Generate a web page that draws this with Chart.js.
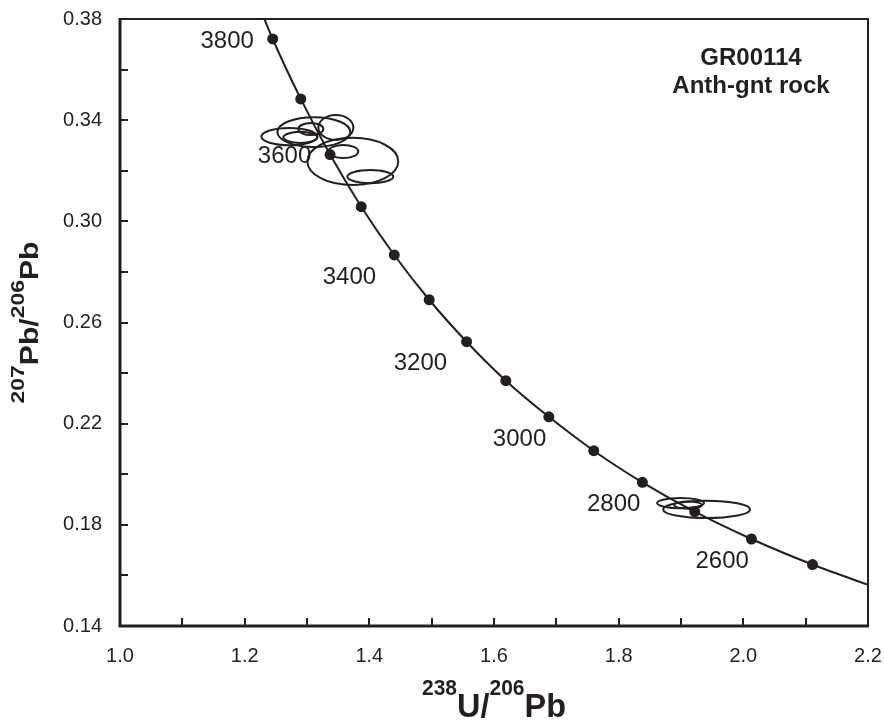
<!DOCTYPE html>
<html>
<head>
<meta charset="utf-8">
<script src="https://cdn.jsdelivr.net/npm/chart.js@4.4.1/dist/chart.umd.min.js"></script>
<style>
  body { margin: 0; background: #fff; }
  canvas { display: block; }
</style>
</head>
<body>
<canvas id="chartCanvas" width="884" height="724"></canvas>
<script>
// concordia (ages in Ma), ends run past the frame
const concAges = [3900, 3800, 3700, 3600, 3500, 3400, 3300, 3200, 3100, 3000, 2900, 2800, 2700, 2600, 2500, 2400];
const concX = [1.203, 1.245, 1.290, 1.337, 1.387, 1.440, 1.496, 1.556, 1.619, 1.688, 1.760, 1.838, 1.922, 2.013, 2.111, 2.217];
const concY = [0.3976, 0.3721, 0.3484, 0.3264, 0.3058, 0.2867, 0.2690, 0.2524, 0.2370, 0.2227, 0.2093, 0.1968, 0.1852, 0.1744, 0.1643, 0.1548];
const markerAges = [3800, 3700, 3600, 3500, 3400, 3300, 3200, 3100, 3000, 2900, 2800, 2700, 2600, 2500];

// age labels and where they sit
const ageLabels = ["3800", "3600", "3400", "3200", "3000", "2800", "2600"];
const ageLabelX = [1.172, 1.264, 1.368, 1.482, 1.641, 1.792, 1.966];
const ageLabelY = [0.3710, 0.3256, 0.2780, 0.2440, 0.2139, 0.1882, 0.1657];

// error ellipses: centre and semi-axes in data units
const ellX  = [1.2717, 1.3110, 1.2894, 1.3062, 1.3463, 1.3735, 1.3583, 1.4016, 1.8993, 1.9411, 1.9114];
const ellY  = [0.3335, 0.3353, 0.3332, 0.3365, 0.3371, 0.3237, 0.3276, 0.3177, 0.1886, 0.1861, 0.1878];
const ellRx = [0.0449, 0.0585, 0.0273, 0.0200, 0.0281, 0.0729, 0.0240, 0.0369, 0.0377, 0.0697, 0.0224];
const ellRy = [0.0034, 0.0059, 0.0022, 0.0024, 0.0049, 0.0093, 0.0026, 0.0026, 0.0020, 0.0034, 0.0014];

const noteLines = ["GR00114", "Anth-gnt rock"];

const INK = "#231f20";
const FONT = "'Liberation Sans', Arial, sans-serif";

const curve = concX.map((x, i) => ({ x: x, y: concY[i] })).sort((a, b) => a.x - b.x);
const dots = markerAges.map(a => {
	const i = concAges.indexOf(a);
	return { x: concX[i], y: concY[i] };
});

function drawSupText(ctx, parts, mainSize, supSize, raise, length) {
	const mainFont = "bold " + mainSize + "px " + FONT;
	const supFont = "bold " + supSize + "px " + FONT;
	let total = 0;
	const widths = parts.map(p => {
		ctx.font = p.sup ? supFont : mainFont;
		const w = ctx.measureText(p.t).width;
		total += w;
		return w;
	});
	const k = length / total;
	ctx.save();
	ctx.scale(k, 1);
	let x = -total / 2;
	parts.forEach((p, i) => {
		ctx.font = p.sup ? supFont : mainFont;
		ctx.fillText(p.t, x, p.sup ? -raise : 0);
		x += widths[i];
	});
	ctx.restore();
}

const framePlugin = {
	id: "frame",
	afterDatasetsDraw(chart) {
		const ctx = chart.ctx;
		const area = chart.chartArea;
		const xs = chart.scales.x;
		const ys = chart.scales.y;

		// error ellipses
		ctx.save();
		ctx.beginPath();
		ctx.rect(area.left, area.top, area.right - area.left, area.bottom - area.top);
		ctx.clip();
		ctx.strokeStyle = INK;
		ctx.lineWidth = 2;
		ellX.forEach((cx, i) => {
			const px = xs.getPixelForValue(cx);
			const py = ys.getPixelForValue(ellY[i]);
			const rx = Math.abs(xs.getPixelForValue(cx + ellRx[i]) - px);
			const ry = Math.abs(ys.getPixelForValue(ellY[i] + ellRy[i]) - py);
			ctx.beginPath();
			ctx.ellipse(px, py, rx, ry, 0, 0, Math.PI * 2);
			ctx.stroke();
		});
		ctx.restore();

		// frame
		ctx.save();
		ctx.strokeStyle = INK;
		ctx.lineWidth = 2;
		ctx.beginPath();
		ctx.moveTo(area.left, area.top);
		ctx.lineTo(area.right, area.top);
		ctx.lineTo(area.right, area.bottom);
		ctx.stroke();
		ctx.lineWidth = 3;
		ctx.beginPath();
		ctx.moveTo(area.left, area.top - 1);
		ctx.lineTo(area.left, area.bottom);
		ctx.lineTo(area.right + 1, area.bottom);
		ctx.stroke();

		// inward ticks
		ctx.lineWidth = 2;
		ctx.beginPath();
		xs.ticks.forEach(t => {
			const p = Math.round(xs.getPixelForValue(t.value));
			ctx.moveTo(p, area.bottom);
			ctx.lineTo(p, area.bottom - 8);
		});
		ys.ticks.forEach(t => {
			const p = Math.round(ys.getPixelForValue(t.value));
			ctx.moveTo(area.left, p);
			ctx.lineTo(area.left + 8, p);
		});
		ctx.stroke();

		// age labels
		ctx.fillStyle = INK;
		ctx.font = "24px " + FONT;
		ctx.textAlign = "center";
		ctx.textBaseline = "middle";
		ageLabels.forEach((s, i) => {
			ctx.fillText(s, xs.getPixelForValue(ageLabelX[i]), ys.getPixelForValue(ageLabelY[i]));
		});

		// sample note
		ctx.font = "bold 24px " + FONT;
		ctx.textBaseline = "alphabetic";
		ctx.fillText(noteLines[0], 751, 65);
		ctx.fillText(noteLines[1], 751, 93);

		// axis titles
		ctx.textAlign = "left";
		ctx.save();
		ctx.translate((area.left + area.right) / 2, 717);
		drawSupText(ctx, [{ t: "238", sup: true }, { t: "U" }, { t: "/" }, { t: "206", sup: true }, { t: "Pb" }], 34, 22, 22, 144);
		ctx.restore();
		ctx.save();
		ctx.translate(38, (area.top + area.bottom) / 2);
		ctx.rotate(-Math.PI / 2);
		drawSupText(ctx, [{ t: "207", sup: true }, { t: "Pb" }, { t: "/" }, { t: "206", sup: true }, { t: "Pb" }], 25, 19, 14, 162);
		ctx.restore();
		ctx.restore();
	}
};

new Chart(document.getElementById("chartCanvas"), {
	type: "scatter",
	data: {
		datasets: [
			{
				type: "line",
				data: curve,
				borderColor: INK,
				borderWidth: 2,
				pointRadius: 0,
				fill: false,
				cubicInterpolationMode: "monotone"
			},
			{
				data: dots,
				pointRadius: 5.5,
				pointBackgroundColor: INK,
				pointBorderWidth: 0
			}
		]
	},
	options: {
		responsive: false,
		animation: false,
		layout: { padding: { top: 19, right: 16, left: 0, bottom: 0 } },
		plugins: {
			legend: { display: false },
			tooltip: { enabled: false }
		},
		scales: {
			x: {
				type: "linear",
				min: 1.0,
				max: 2.2,
				grid: { display: false, drawTicks: false },
				border: { display: false },
				ticks: {
					stepSize: 0.1,
					padding: 18,
					color: INK,
					font: { size: 20, family: FONT },
					maxRotation: 0,
					autoSkip: false,
					callback: v => Math.round(v * 10) % 2 === 0 ? v.toFixed(1) : ""
				},
				afterFit: s => {
					s.height = 98;
					s.paddingLeft = 0;
					s.paddingRight = 0;
				}
			},
			y: {
				type: "linear",
				min: 0.14,
				max: 0.38,
				grid: { display: false, drawTicks: false },
				border: { display: false },
				ticks: {
					stepSize: 0.02,
					padding: 18,
					color: INK,
					font: { size: 20, family: FONT },
					autoSkip: false,
					callback: v => Math.round(v * 100) % 4 === 2 ? v.toFixed(2) : ""
				},
				afterFit: s => {
					s.width = 120;
					s.paddingTop = 0;
					s.paddingBottom = 0;
				}
			}
		}
	},
	plugins: [framePlugin]
});
</script>
</body>
</html>
